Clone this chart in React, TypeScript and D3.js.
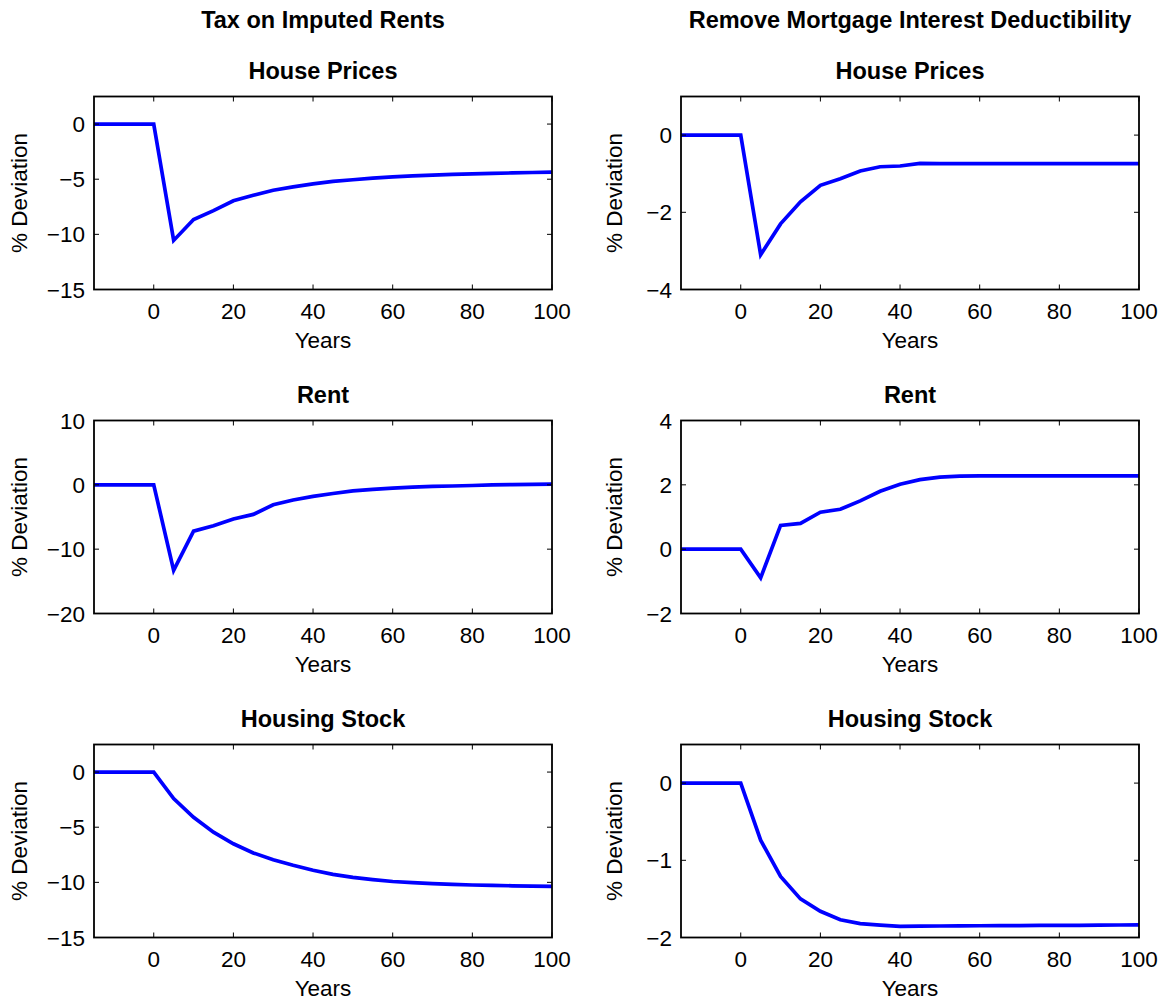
import React from "react";
import * as d3 from "d3";

const years = [-15, -10, -5, 0, 5, 10, 15, 20, 25, 30, 35, 40, 45, 50, 55, 60, 65, 70, 75, 80, 85, 90, 95, 100];

const columnTitles = ["Tax on Imputed Rents", "Remove Mortgage Interest Deductibility"];
const rowTitles = ["House Prices", "Rent", "Housing Stock"];

const taxHousePrices = [0, 0, 0, 0, -10.55, -8.65, -7.85, -6.95, -6.45, -6.0, -5.7, -5.42, -5.2, -5.05, -4.9, -4.78, -4.7, -4.63, -4.57, -4.52, -4.47, -4.43, -4.39, -4.35];
const taxRent = [0, 0, 0, 0, -13.3, -7.2, -6.35, -5.3, -4.6, -3.1, -2.35, -1.8, -1.35, -0.95, -0.7, -0.5, -0.35, -0.25, -0.18, -0.1, 0, 0.03, 0.06, 0.1];
const taxHousingStock = [0, 0, 0, 0, -2.4, -4.1, -5.45, -6.5, -7.33, -7.95, -8.45, -8.9, -9.27, -9.55, -9.75, -9.92, -10.03, -10.12, -10.19, -10.24, -10.28, -10.31, -10.34, -10.36];

const mortHousePrices = [0, 0, 0, 0, -3.1, -2.3, -1.73, -1.3, -1.13, -0.93, -0.82, -0.8, -0.735, -0.74, -0.74, -0.74, -0.74, -0.74, -0.74, -0.74, -0.74, -0.74, -0.74, -0.74];
const mortRent = [0, 0, 0, 0, -0.89, 0.74, 0.8, 1.15, 1.24, 1.5, 1.8, 2.02, 2.16, 2.24, 2.27, 2.28, 2.28, 2.28, 2.28, 2.28, 2.28, 2.28, 2.28, 2.28];
const mortHousingStock = [0, 0, 0, 0, -0.74, -1.21, -1.5, -1.66, -1.77, -1.82, -1.84, -1.855, -1.853, -1.851, -1.85, -1.848, -1.846, -1.845, -1.844, -1.843, -1.842, -1.84, -1.838, -1.836];

const xDomain = [-15, 100];
const xTicks = [0, 20, 40, 60, 80, 100];

const yDomains = [
  [[-15, 2.5], [-4, 1]],
  [[-20, 10], [-2, 4]],
  [[-15, 2.5], [-2, 0.5]],
];
const yTicks = [
  [[-15, -10, -5, 0], [-4, -2, 0]],
  [[-20, -10, 0, 10], [-2, 0, 2, 4]],
  [[-15, -10, -5, 0], [-2, -1, 0]],
];
const series = [
  [taxHousePrices, mortHousePrices],
  [taxRent, mortRent],
  [taxHousingStock, mortHousingStock],
];

const W = 1168;
const H = 1001;
const colLeft = [94, 681];
const plotW = 458;
const rowTop = [96.5, 420.5, 744.5];
const plotH = 193;
const FONT = "'Liberation Sans', Arial, Helvetica, sans-serif";

function fmt(v: number) {
  return v < 0 ? "\u2212" + Math.abs(v) : String(v);
}

function Panel({ row, col }: { row: number; col: number }) {
  const x0 = colLeft[col];
  const y0 = rowTop[row];
  const x = d3.scaleLinear().domain(xDomain).range([x0, x0 + plotW]);
  const y = d3.scaleLinear().domain(yDomains[row][col]).range([y0 + plotH, y0]);
  const data = series[row][col];
  const line = d3
    .line<number>()
    .x((_, i) => x(years[i]))
    .y((d) => y(d));
  const tl = 5;
  return (
    <g>
      <text x={x0 + plotW / 2} y={y0 - 17.5} textAnchor="middle" fontSize={23.5} fontWeight="bold" fontFamily={FONT}>
        {rowTitles[row]}
      </text>
      <path d={line(data) || ""} fill="none" stroke="#0000ff" strokeWidth={3.7} strokeLinejoin="miter" />
      <rect x={x0} y={y0} width={plotW} height={plotH} fill="none" stroke="#000" strokeWidth={1.8} />
      {xTicks.map((t) => (
        <g key={"x" + t}>
          <line x1={x(t)} x2={x(t)} y1={y0 + plotH} y2={y0 + plotH - tl} stroke="#000" strokeWidth={1} />
          <line x1={x(t)} x2={x(t)} y1={y0} y2={y0 + tl} stroke="#000" strokeWidth={1} />
          <text x={x(t)} y={y0 + plotH + 29} textAnchor="middle" fontSize={22.5} fontFamily={FONT}>
            {fmt(t)}
          </text>
        </g>
      ))}
      {yTicks[row][col].map((t) => (
        <g key={"y" + t}>
          <line x1={x0} x2={x0 + tl} y1={y(t)} y2={y(t)} stroke="#000" strokeWidth={1} />
          <line x1={x0 + plotW} x2={x0 + plotW - tl} y1={y(t)} y2={y(t)} stroke="#000" strokeWidth={1} />
          <text x={x0 - 9} y={y(t)} dy="0.36em" textAnchor="end" fontSize={22.5} fontFamily={FONT}>
            {fmt(t)}
          </text>
        </g>
      ))}
      <text x={x0 + plotW / 2} y={y0 + plotH + 58} textAnchor="middle" fontSize={22.5} fontFamily={FONT}>
        Years
      </text>
      <text
        transform={`translate(${x0 - (col === 0 ? 75 : 67)},${y0 + plotH / 2}) rotate(-90)`}
        textAnchor="middle"
        dy="0.36em"
        fontSize={22.5}
        fontFamily={FONT}
      >
        % Deviation
      </text>
    </g>
  );
}

export default function App() {
  return (
    <svg width={W} height={H} style={{ position: "absolute", left: 0, top: 0, background: "#fff" }}>
      <rect width={W} height={H} fill="#fff" />
      {columnTitles.map((t, c) => (
        <text key={t} x={colLeft[c] + plotW / 2} y={28} textAnchor="middle" fontSize={23.5} fontWeight="bold" fontFamily={FONT}>
          {t}
        </text>
      ))}
      {[0, 1, 2].map((r) => [0, 1].map((c) => <Panel key={r + "-" + c} row={r} col={c} />))}
    </svg>
  );
}
